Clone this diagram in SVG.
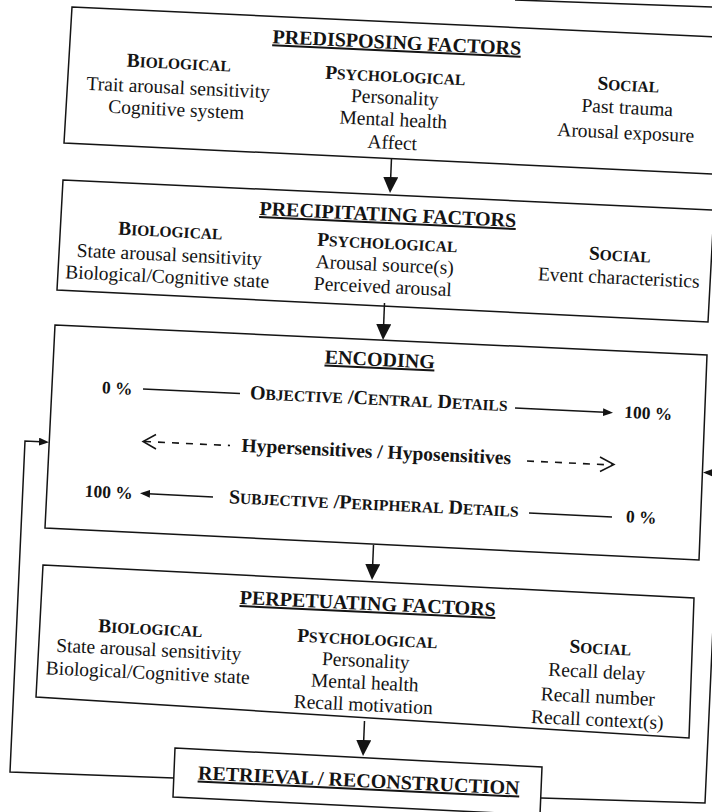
<svg xmlns="http://www.w3.org/2000/svg" width="712" height="812" viewBox="0 0 712 812">
<style>
.t{font-family:"Liberation Serif","Times New Roman",serif;fill:#141414;text-anchor:middle}
.ti{font-size:20px;font-weight:bold;text-decoration:underline}
.hd{font-size:19.5px;font-weight:bold}
.sc{font-size:15.5px}
.bd{font-size:19.5px}
.pc{font-size:17.5px;font-weight:bold}
.en{font-size:20px;font-weight:bold}
.hy{font-size:19.5px;font-weight:bold}
.box{fill:none;stroke:#141414;stroke-width:1.5;stroke-linejoin:miter}
.ln{fill:none;stroke:#141414;stroke-width:1.5}
.dash{fill:none;stroke:#141414;stroke-width:1.6;stroke-dasharray:7 7}
</style>
<defs>
<marker id="big" viewBox="0 0 16 15" refX="12" refY="7.5" markerWidth="16" markerHeight="15" markerUnits="userSpaceOnUse" orient="auto"><path d="M0,0 L16,7.5 L0,15 z" fill="#141414"/></marker>
<marker id="sm" viewBox="0 0 10 8" refX="7" refY="4" markerWidth="10" markerHeight="8" markerUnits="userSpaceOnUse" orient="auto"><path d="M0,0 L10,4 L0,8 z" fill="#141414"/></marker>
</defs>
<rect x="0" y="0" width="712" height="812" fill="#ffffff"/>
<line class="ln" x1="515" y1="0" x2="712" y2="7"/>

<g id="predisposing">
<polygon class="box" points="72,7 740,38 735,175 64,143"/>
<text class="t ti" x="396.5" y="49" transform="rotate(2.7 396.5 49)">PREDISPOSING FACTORS</text>
<text class="t hd" x="178.5" y="69" transform="rotate(2.7 178.5 69)">B<tspan class="sc">IOLOGICAL</tspan></text>
<text class="t bd" x="178" y="94" transform="rotate(2.7 178 94)">Trait arousal sensitivity</text>
<text class="t bd" x="176" y="116" transform="rotate(2.7 176 116)">Cognitive system</text>
<text class="t hd" x="395" y="82" transform="rotate(2.7 395 82)">P<tspan class="sc">SYCHOLOGICAL</tspan></text>
<text class="t bd" x="394.5" y="104" transform="rotate(2.7 394.5 104)">Personality</text>
<text class="t bd" x="393" y="126" transform="rotate(2.7 393 126)">Mental health</text>
<text class="t bd" x="392" y="149" transform="rotate(2.7 392 149)">Affect</text>
<text class="t hd" x="628" y="91" transform="rotate(2.7 628 91)">S<tspan class="sc">OCIAL</tspan></text>
<text class="t bd" x="627" y="114" transform="rotate(2.7 627 114)">Past trauma</text>
<text class="t bd" x="625.5" y="139" transform="rotate(2.7 625.5 139)">Arousal exposure</text>
</g>

<g id="precipitating">
<polygon class="box" points="63,180 714,210 708,322 57,290"/>
<text class="t ti" x="387.5" y="221" transform="rotate(2.7 387.5 221)">PRECIPITATING FACTORS</text>
<text class="t hd" x="170" y="237" transform="rotate(2.7 170 237)">B<tspan class="sc">IOLOGICAL</tspan></text>
<text class="t bd" x="169" y="261" transform="rotate(2.7 169 261)">State arousal sensitivity</text>
<text class="t bd" x="167" y="283" transform="rotate(2.7 167 283)">Biological/Cognitive state</text>
<text class="t hd" x="387" y="249" transform="rotate(2.7 387 249)">P<tspan class="sc">SYCHOLOGICAL</tspan></text>
<text class="t bd" x="384.5" y="271" transform="rotate(2.7 384.5 271)">Arousal source(s)</text>
<text class="t bd" x="382.5" y="293" transform="rotate(2.7 382.5 293)">Perceived arousal</text>
<text class="t hd" x="619.5" y="261" transform="rotate(2.7 619.5 261)">S<tspan class="sc">OCIAL</tspan></text>
<text class="t bd" x="618.5" y="284" transform="rotate(2.7 618.5 284)">Event characteristics</text>
</g>

<g id="encoding">
<polygon class="box" points="55,325 707,355 699,560 45,528"/>
<text class="t ti" x="379.5" y="366" transform="rotate(2.7 379.5 366)">ENCODING</text>
<text class="t pc" x="117" y="394" transform="rotate(2.7 117 394)">0 %</text>
<line class="ln" x1="143" y1="389" x2="240" y2="393.5"/>
<text class="t en" x="378.5" y="405" transform="rotate(2.7 378.5 405)">O<tspan class="sc">BJECTIVE</tspan> /C<tspan class="sc">ENTRAL</tspan> D<tspan class="sc">ETAILS</tspan></text>
<line class="ln" x1="515" y1="408" x2="610" y2="412.5" marker-end="url(#sm)"/>
<text class="t pc" x="648" y="419" transform="rotate(2.7 648 419)">100 %</text>
<path class="ln" d="M156,434.5 L143,441.5 L156,449"/>
<line class="dash" x1="144" y1="441.5" x2="230" y2="445.5"/>
<text class="t hy" x="376" y="458" transform="rotate(2.7 376 458)">Hypersensitives / Hyposensitives</text>
<line class="dash" x1="527" y1="461" x2="612" y2="465"/>
<path class="ln" d="M600,457 L614,464.5 L600,471.5"/>
<text class="t pc" x="108.5" y="498" transform="rotate(2.7 108.5 498)">100 %</text>
<line class="ln" x1="213" y1="497" x2="143" y2="493.5" marker-end="url(#sm)"/>
<text class="t en" x="373.5" y="510" transform="rotate(2.7 373.5 510)">S<tspan class="sc">UBJECTIVE</tspan> /P<tspan class="sc">ERIPHERAL</tspan>  D<tspan class="sc">ETAILS</tspan></text>
<line class="ln" x1="529" y1="513" x2="612" y2="517"/>
<text class="t pc" x="641" y="523" transform="rotate(2.7 641 523)">0 %</text>
</g>

<g id="perpetuating">
<polygon class="box" points="43,565 694,598 689,738 36,697"/>
<text class="t ti" x="367.5" y="610" transform="rotate(2.7 367.5 610)">PERPETUATING FACTORS</text>
<text class="t hd" x="150" y="634.5" transform="rotate(2.7 150 634.5)">B<tspan class="sc">IOLOGICAL</tspan></text>
<text class="t bd" x="148.5" y="656" transform="rotate(2.7 148.5 656)">State arousal sensitivity</text>
<text class="t bd" x="147.5" y="679" transform="rotate(2.7 147.5 679)">Biological/Cognitive state</text>
<text class="t hd" x="367" y="645" transform="rotate(2.7 367 645)">P<tspan class="sc">SYCHOLOGICAL</tspan></text>
<text class="t bd" x="365.5" y="667" transform="rotate(2.7 365.5 667)">Personality</text>
<text class="t bd" x="364.5" y="689" transform="rotate(2.7 364.5 689)">Mental health</text>
<text class="t bd" x="363" y="711" transform="rotate(2.7 363 711)">Recall motivation</text>
<text class="t hd" x="600" y="654" transform="rotate(2.7 600 654)">S<tspan class="sc">OCIAL</tspan></text>
<text class="t bd" x="596.5" y="678" transform="rotate(2.7 596.5 678)">Recall delay</text>
<text class="t bd" x="597.5" y="703" transform="rotate(2.7 597.5 703)">Recall number</text>
<text class="t bd" x="597" y="726" transform="rotate(2.7 597 726)">Recall context(s)</text>
</g>

<g id="retrieval">
<polygon class="box" points="175,748 542,767 540,815 173,797"/>
<text class="t ti" x="358.5" y="787" transform="rotate(2.7 358.5 787)">RETRIEVAL / RECONSTRUCTION</text>
</g>

<g id="connectors">
<line class="ln" x1="391.5" y1="158" x2="390.2" y2="189" marker-end="url(#big)"/>
<line class="ln" x1="384.5" y1="303" x2="383.2" y2="336" marker-end="url(#big)"/>
<line class="ln" x1="373.5" y1="545" x2="372.2" y2="576" marker-end="url(#big)"/>
<line class="ln" x1="364.5" y1="721" x2="363.2" y2="752" marker-end="url(#big)"/>
<path class="ln" d="M174,778 L10,772 L25,441 L46,442" marker-end="url(#sm)"/>
<path class="ln" d="M541,798 L705,803 L720,473 L706,472.5" marker-end="url(#sm)"/>
</g>
</svg>
